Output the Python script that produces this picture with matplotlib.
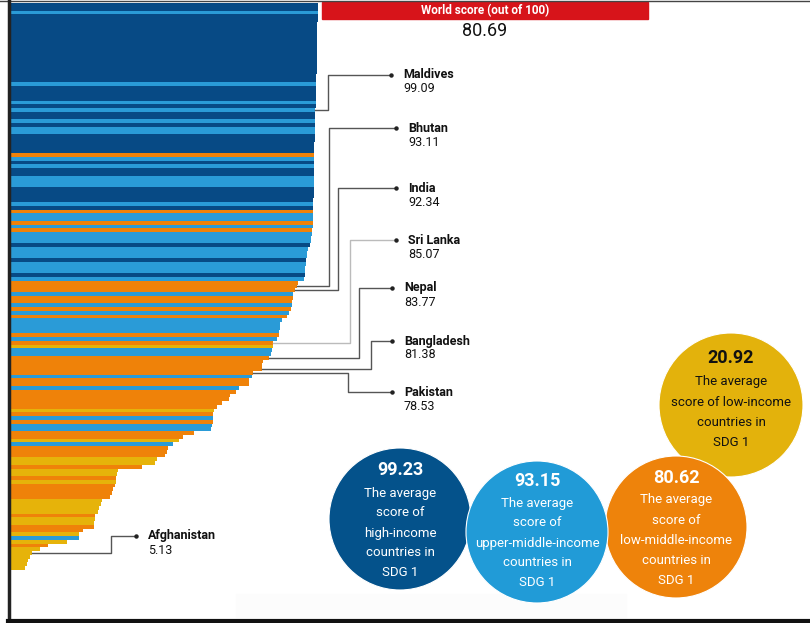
import matplotlib
matplotlib.use("Agg")
import matplotlib.pyplot as plt
from matplotlib.patches import Circle, Rectangle

plt.rcParams['font.family'] = ['Liberation Sans Narrow', 'Roboto', 'DejaVu Sans']

# SDG 1 scores, sorted high -> low, one bar per country
scores = [
    100.0, 100.0, 100.0, 100.0, 99.9,
    99.8, 99.8, 99.8, 99.8, 99.8, 99.8, 99.7, 99.7, 99.7, 99.7, 99.7,
    99.6, 99.6, 99.6, 99.5, 99.5, 99.5,
    99.5, 99.4, 99.4, 99.4, 99.3, 99.3, 99.09,
    99.05, 99.0, 99.0, 99.0, 98.95, 98.9,
    98.9, 98.9, 98.8, 98.8, 98.8, 98.8, 98.8, 98.8, 98.8,
    98.7, 98.7, 98.7, 98.7, 98.7, 98.6, 98.6, 98.6, 98.5,
    98.5, 98.4, 98.3, 98.3, 98.3, 98.2, 98.2, 98.1,
    97.9, 97.8, 97.6, 97.2, 96.8, 96.4, 96.2, 96.0,
    95.9, 95.8, 95.8, 95.7, 95.5,
    93.5, 93.11, 92.34, 91.8, 91.7, 91.5, 91.4, 91.2, 90.5, 89.8,
    88.0, 87.5, 87.3, 87.2, 87.1, 86.3, 85.07, 85.0, 84.7, 84.6,
    83.77, 81.9, 81.5, 81.38, 78.53, 78.2, 77.3, 77.1, 73.9,
    72.8, 70.9, 70.6, 68.1, 66.5, 65.6, 65.3, 65.2, 65.1, 64.8, 64.7,
    58.9, 55.4, 54.1, 51.9, 50.4, 49.9, 49.3, 46.8, 46.0, 41.6,
    33.9, 33.3, 33.1, 33.0, 32.8, 32.2, 31.7, 31.1,
    28.4, 28.0, 27.6, 27.3, 26.2, 26.0, 25.9, 25.8, 22.3,
    20.9, 20.8, 16.8, 10.7,
    7.9, 5.13, 4.6, 4.1, 3.5, 3.0,
]
# H = high, U = upper-middle, L = lower-middle, W = low income
groups = list(
    "HHUHH"
    "HHHHHHHHHHH"
    "HHHHHU"
    "HHHHUHU"
    "HHUHUU"
    "HHHHHLUH"
    "UHHUUUHHHH"
    "UHLUULUL"
    "UUUHUUUH"
    "UUUHU"
    "LLLULLULUL"
    "UUUULULWUU"
    "LLLLLULLU"
    "LLLLLWLULUU"
    "LLWULLLWWL"
    "WWLWLLLL"
    "WWWWLWWLL"
    "WUWL"
    "WWWWWW"
)

colors = {'H': '#074a85', 'U': '#2a9bd7', 'L': '#ef8209', 'W': '#e6b30a'}

world_score = "80.69"

highlight = [
    # name, score, elbow x, label y, dot x
    ("Maldives", 99.09, 328, 75, 391),
    ("Bhutan", 93.11, 329, 128, 396),
    ("India", 92.34, 338, 188, 396),
    ("Sri Lanka", 85.07, 350, 240, 396),
    ("Nepal", 83.77, 359, 288, 392),
    ("Bangladesh", 81.38, 371, 341, 392),
    ("Pakistan", 78.53, 348, 392, 392),
    ("Afghanistan", 5.13, 111, 536, 136),
]

avg_scores = ["99.23", "93.15", "80.62", "20.92"]
avg_text = [
    ["The average", "score of", "high-income", "countries in", "SDG 1"],
    ["The average", "score of", "upper-middle-income", "countries in", "SDG 1"],
    ["The average", "score of", "low-middle-income", "countries in", "SDG 1"],
    ["The average", "score of low-income", "countries in", "SDG 1"],
]
circle_colors = ['#04528b', '#219bd7', '#ee830b', '#e3b20c']
# cx, cy, r, number y, first line y, z
circle_pos = [(400, 519, 71, 470, 493, 3),
              (537, 532, 71, 481, 503, 5),
              (676, 527, 71, 478, 500, 4),
              (731, 405, 72, 358, 382, 2)]
text_col = ['white', 'white', 'white', '#111111']

W, H = 810, 623
fig = plt.figure(figsize=(W / 100, H / 100), dpi=100)

n = len(scores)
assert n == len(groups)
x_start = -2
ax = fig.add_axes([10 / W, 1 - 570 / H, 308 / W, 567 / H])
ax.barh(range(n), [s - x_start for s in scores], left=x_start, height=1.0,
        color=[colors[g] for g in groups], linewidth=0)
ax.set_xlim(x_start, 100)
ax.set_ylim(n - 0.5, -0.5)
ax.axis('off')

ov = fig.add_axes([0, 0, 1, 1])
ov.set_xlim(0, W)
ov.set_ylim(H, 0)
ov.axis('off')
ov.patch.set_alpha(0)

# frame
ov.plot([0, W], [0.5, 0.5], color='#444444', lw=1)
ov.plot([9, 9], [0, 619], color='#222222', lw=2.5)
ov.plot([8, W], [620.5, 620.5], color='#111111', lw=3)

# world score header
ov.add_patch(Rectangle((322, 2), 326, 17, color='#d7141a'))
ov.text(485, 11, "World score (out of 100)", color='white', fontsize=8.5,
        fontweight='bold', ha='center', va='center')
ov.text(485, 31, world_score, color='#111111', fontsize=13, ha='center', va='center')

# leaders
to_px = lambda v, i: ov.transData.inverted().transform(ax.transData.transform((v, i)))
for name, val, ex, ly, dx in highlight:
    i = scores.index(val)
    bx, by = to_px(val, i)
    lc = '#bbbbbb' if name == "Sri Lanka" else '#555555'
    ov.plot([bx, ex, ex, dx], [by, by, ly, ly], color=lc, lw=1)
    ov.plot(dx, ly, 'o', ms=2.2, color='#222222')
    ov.text(dx + 12, ly, name, fontsize=9, fontweight='bold', color='#111111',
            va='center', ha='left')
    ov.text(dx + 12, ly + 14, f"{val:.2f}", fontsize=9, color='#111111',
            va='center', ha='left')

# faint panel behind circles
ov.add_patch(Rectangle((236, 594), 390, 23, color='#fcfcfc', zorder=1))

# average circles
for k in range(4):
    cx, cy, r, ny, ty, z = circle_pos[k]
    ov.add_patch(Circle((cx, cy), r, color=circle_colors[k], ec='white', lw=0.8, zorder=z))
    ov.text(cx, ny, avg_scores[k], color=text_col[k], fontsize=13, fontweight='bold',
            ha='center', va='center', zorder=z)
    for j, line in enumerate(avg_text[k]):
        ov.text(cx, ty + 20 * j, line, color=text_col[k], fontsize=9.5,
                ha='center', va='center', zorder=z)

fig.savefig("out.png", dpi=100)
